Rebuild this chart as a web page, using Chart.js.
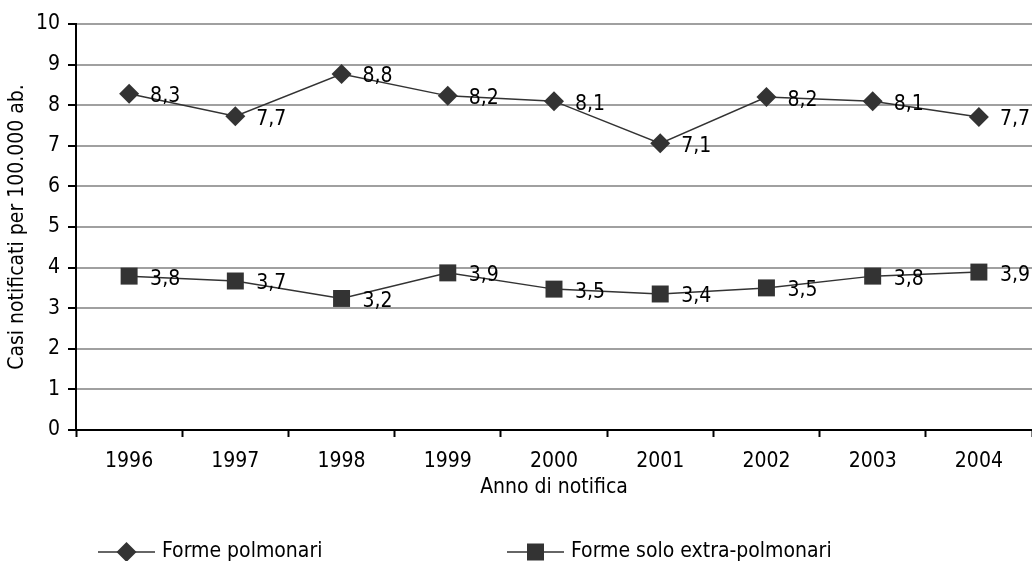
<!DOCTYPE html>
<html>
<head>
<meta charset="utf-8">
<script src="https://cdn.jsdelivr.net/npm/chart.js@4/dist/chart.umd.min.js"></script>
<style>
  html, body { margin: 0; padding: 0; background: #fff; }
  #wrap { width: 1032px; height: 561px; }
</style>
</head>
<body>
<div id="wrap"><canvas id="chart"></canvas></div>
<script>
const years = ['1996', '1997', '1998', '1999', '2000', '2001', '2002', '2003', '2004'];
const polmonari = [8.28, 7.73, 8.77, 8.23, 8.10, 7.06, 8.20, 8.10, 7.71];
const extraPolmonari = [3.79, 3.67, 3.24, 3.87, 3.47, 3.35, 3.50, 3.79, 3.89];
const yTicks = [0, 1, 2, 3, 4, 5, 6, 7, 8, 9, 10];

const FONT = "'DejaVu Sans Condensed', 'DejaVu Sans', sans-serif";
const FS = 21;
const INK = '#333333';

// value labels to the right of each marker, comma decimals
const pointLabels = {
  id: 'pointLabels',
  afterDatasetsDraw(chart) {
    const ctx = chart.ctx;
    ctx.save();
    ctx.font = FS + 'px ' + FONT;
    ctx.fillStyle = '#000';
    ctx.textAlign = 'left';
    ctx.textBaseline = 'middle';
    chart.data.datasets.forEach((ds, i) => {
      chart.getDatasetMeta(i).data.forEach((pt, j) => {
        const txt = ds.data[j].toFixed(1).replace('.', ',');
        ctx.fillText(txt, pt.x + 21, pt.y + 3);
      });
    });
    ctx.restore();
  }
};

// legend with line + marker, laid out like the original
const lineLegend = {
  id: 'lineLegend',
  afterDraw(chart) {
    const ctx = chart.ctx;
    const y = chart.height - 9;
    const starts = [98, 507];
    ctx.save();
    ctx.font = FS + 'px ' + FONT;
    ctx.textBaseline = 'middle';
    chart.data.datasets.forEach((ds, i) => {
      const x0 = starts[i];
      ctx.strokeStyle = INK;
      ctx.lineWidth = 1.5;
      ctx.beginPath();
      ctx.moveTo(x0, y);
      ctx.lineTo(x0 + 57, y);
      ctx.stroke();
      ctx.fillStyle = INK;
      const cx = x0 + 28.5;
      ctx.beginPath();
      if (ds.pointStyle === 'rectRot') {
        ctx.moveTo(cx - 10, y); ctx.lineTo(cx, y - 10);
        ctx.lineTo(cx + 10, y); ctx.lineTo(cx, y + 10);
      } else {
        ctx.rect(cx - 8.5, y - 8.5, 17, 17);
      }
      ctx.closePath();
      ctx.fill();
      ctx.fillStyle = '#000';
      ctx.fillText(ds.label, x0 + 64, y);
    });
    ctx.restore();
  }
};

new Chart(document.getElementById('chart'), {
  type: 'line',
  data: {
    labels: years,
    datasets: [
      {
        label: 'Forme polmonari',
        data: polmonari,
        borderColor: INK,
        borderWidth: 1.5,
        backgroundColor: INK,
        pointStyle: 'rectRot',
        pointRadius: 10,
        pointBorderWidth: 0,
        pointHoverRadius: 10,
        tension: 0
      },
      {
        label: 'Forme solo extra-polmonari',
        data: extraPolmonari,
        borderColor: INK,
        borderWidth: 1.5,
        backgroundColor: INK,
        pointStyle: 'rect',
        pointRadius: 12,
        pointBorderWidth: 0,
        pointHoverRadius: 12,
        tension: 0
      }
    ]
  },
  options: {
    responsive: true,
    maintainAspectRatio: false,
    animation: false,
    layout: { autoPadding: false, padding: { top: 24, right: 0, bottom: 61, left: 0 } },
    plugins: {
      legend: { display: false },
      tooltip: { enabled: false }
    },
    scales: {
      x: {
        offset: true,
        grid: {
          offset: true,
          drawOnChartArea: false,
          drawTicks: true,
          tickLength: 7,
          tickColor: '#000',
          tickWidth: 2
        },
        border: { color: '#000', width: 2 },
        ticks: { color: '#000', font: { family: FONT, size: FS }, padding: 12, maxRotation: 0 },
        title: { display: true, text: 'Anno di notifica', color: '#000', font: { family: FONT, size: FS }, padding: { top: 2, bottom: 0 } },
        afterFit(scale) { scale.height = 70; }
      },
      y: {
        min: 0,
        max: 10,
        afterBuildTicks(scale) { scale.ticks = yTicks.map(v => ({ value: v })); },
        grid: {
          color: '#a0a0a0',
          lineWidth: 2,
          drawTicks: true,
          tickLength: 8,
          tickColor: '#000',
          tickWidth: 2
        },
        border: { color: '#000', width: 2 },
        ticks: { color: '#000', font: { family: FONT, size: FS }, padding: 8 },
        title: { display: true, text: 'Casi notificati per 100.000 ab.', color: '#000', font: { family: FONT, size: FS }, padding: { top: 5, bottom: 0 } },
        afterFit(scale) { scale.width = 76; }
      }
    }
  },
  plugins: [pointLabels, lineLegend]
});
</script>
</body>
</html>
